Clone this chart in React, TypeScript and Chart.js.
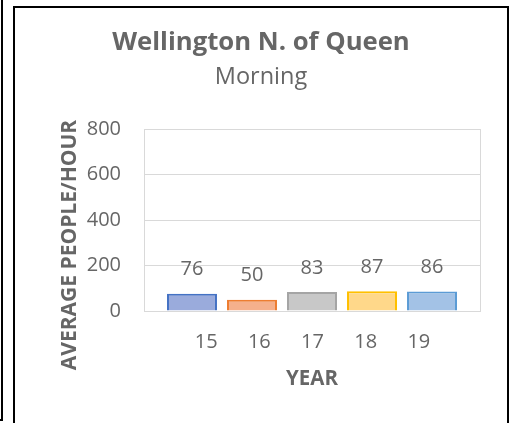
import React, { useEffect, useRef } from "react";
import { Chart, registerables } from "chart.js";

Chart.register(...registerables);

// ---- data ----
const CATEGORY = ["Morning"];
const YEARS = [15, 16, 17, 18, 19];
const VALUES = [76, 50, 83, 87, 86];
const Y_TICKS = [0, 200, 400, 600, 800];
const TITLE = "Wellington N. of Queen";
const SUBTITLE = "Morning";
const Y_TITLE = "AVERAGE PEOPLE/HOUR";
const X_TITLE = "YEAR";

const FILLS = ["#9aabdc", "#f5b08c", "#c8c8c8", "#ffd88a", "#a3c2e6"];
const BORDERS = ["#4472c4", "#ed7d31", "#a5a5a5", "#ffc000", "#5b9bd5"];

const TEXT = "#666666";
const GRID = "#d9d9d9";
const FONT = "'Open Sans'";

const dataLabels = {
  id: "dataLabels",
  afterDatasetsDraw(chart: any) {
    const ctx = chart.ctx;
    ctx.save();
    ctx.font = `20px ${FONT}`;
    ctx.fillStyle = TEXT;
    ctx.textAlign = "center";
    ctx.textBaseline = "alphabetic";
    chart.data.datasets.forEach((ds: any, i: number) => {
      const meta = chart.getDatasetMeta(i);
      meta.data.forEach((bar: any, j: number) => {
        ctx.fillText(String(ds.data[j]), bar.x, bar.y - 18.5);
      });
    });
    ctx.restore();
  },
};

const yTitle = {
  id: "yTitle",
  afterDraw(chart: any) {
    const ctx = chart.ctx;
    const ca = chart.chartArea;
    ctx.save();
    ctx.font = `bold 21px ${FONT}`;
    ctx.fillStyle = TEXT;
    ctx.textAlign = "center";
    ctx.textBaseline = "middle";
    ctx.translate(ca.left - 74, (ca.top + ca.bottom) / 2 + 25);
    ctx.rotate(-Math.PI / 2);
    ctx.fillText(Y_TITLE, 0, 0);
    ctx.restore();
  },
};

export default function App() {
  const ref = useRef<HTMLCanvasElement | null>(null);
  useEffect(() => {
    if (!ref.current) return;
    const chart = new Chart(ref.current, {
      type: "bar",
      data: {
        labels: CATEGORY,
        datasets: YEARS.map((yr, i) => ({
          label: String(yr),
          data: [VALUES[i]],
          backgroundColor: FILLS[i],
          borderColor: BORDERS[i],
          borderWidth: 2,
          categoryPercentage: 0.893,
          barPercentage: 0.833,
        })),
      },
      options: {
        animation: false,
        responsive: false,
        events: [],
        layout: { padding: { left: 27, right: 27, top: 0, bottom: 32 } },
        plugins: {
          legend: { display: false },
          tooltip: { enabled: false },
          title: {
            display: true,
            text: TITLE,
            color: TEXT,
            font: { family: FONT, size: 25.7, weight: "bold" },
            padding: { top: 19, bottom: 0 },
          },
          subtitle: {
            display: true,
            text: SUBTITLE,
            color: TEXT,
            font: { family: FONT, size: 23.5, weight: "normal" },
            padding: { top: 5, bottom: 38 },
          },
        },
        scales: {
          x: {
            type: "category",
            weight: 0,
            ticks: { display: false },
            grid: { display: true, color: GRID, lineWidth: 1, drawTicks: false, offset: true },
            border: { display: true, color: GRID, width: 1 },
          },
          yr: {
            type: "linear",
            position: "bottom",
            weight: 1,
            offset: false,
            beginAtZero: false,
            bounds: "data",
            min: 13.83,
            max: 20.15,
            afterBuildTicks: (axis: any) => {
              axis.ticks = YEARS.map((v) => ({ value: v }));
            },
            afterFit: (axis: any) => {
              axis.height = 80;
            },
            ticks: {
              color: TEXT,
              font: { family: FONT, size: 20 },
              padding: 19,
              autoSkip: false,
              maxRotation: 0,
            },
            grid: { display: false, drawTicks: false, offset: false },
            border: { display: false },
            title: {
              display: true,
              text: X_TITLE,
              color: TEXT,
              font: { family: FONT, size: 20.5, weight: "bold" },
              padding: { top: 0, bottom: 0 },
            },
          },
          y: {
            type: "linear",
            min: Y_TICKS[0],
            max: Y_TICKS[Y_TICKS.length - 1],
            afterBuildTicks: (axis: any) => {
              axis.ticks = Y_TICKS.map((v) => ({ value: v }));
            },
            afterFit: (axis: any) => {
              axis.width = 102;
            },
            ticks: {
              color: TEXT,
              font: { family: FONT, size: 20 },
              padding: 23,
            },
            grid: { color: GRID, lineWidth: 1, drawTicks: false },
            border: { display: true, color: GRID, width: 1 },
          },
        },
      },
      plugins: [dataLabels, yTitle],
    });
    return () => chart.destroy();
  }, []);

  return (
    <div style={{ position: "fixed", left: 0, top: 0, width: 513, height: 423, overflow: "hidden", background: "#fff" }}>
      <div style={{ position: "absolute", left: 1, top: 0, width: 2, height: 421, background: "#000" }} />
      <div style={{ position: "absolute", left: 0, top: 419, width: 3, height: 2, background: "#000" }} />
      <div
        style={{
          position: "absolute",
          left: 13,
          top: 6,
          width: 492,
          height: 440,
          border: "2px solid #000",
        }}
      />
      <canvas
        ref={ref}
        width={492}
        height={415}
        style={{ position: "absolute", left: 15, top: 8, width: 492, height: 415 }}
      />
    </div>
  );
}
